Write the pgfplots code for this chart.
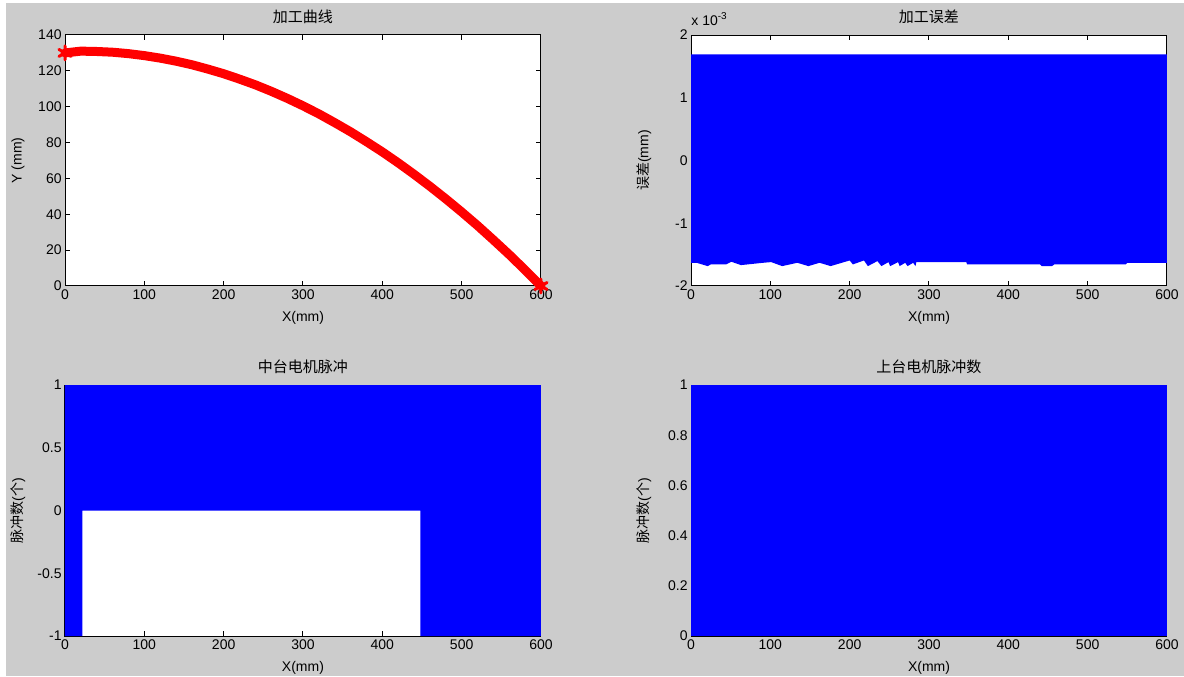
\documentclass[border=0pt]{standalone}
\usepackage{fontspec}
\setmainfont{Liberation Sans}
\newfontfamily\cjk{Noto Sans CJK SC}
\usepackage{pgfplots}
\pgfplotsset{compat=1.18}
\definecolor{figgray}{RGB}{204,204,204}
\definecolor{mblue}{RGB}{0,0,255}
\definecolor{mred}{RGB}{255,0,0}
\pgfplotsset{
  mat/.style={
    scale only axis, width=238pt, height=125.5pt,
    xmin=0, xmax=600, xtick={0,100,...,600},
    tick align=inside, major tick length=2.5pt,
    axis line style={line width=0.5pt},
    every tick/.style={black, line width=0.5pt},
    axis background/.style={fill=white},
    /pgf/number format/assume math mode=true,
    tick label style={font=\fontsize{7}{8}\selectfont},
    xticklabel style={inner sep=1.5pt},
    yticklabel style={inner sep=1.5pt},
    label style={font=\fontsize{7}{8}\selectfont},
    every axis title shift=0pt,
    title style={font=\fontsize{7.5}{8}\selectfont\cjk, at={(axis description cs:0.5,1.0717)}, anchor=center, yshift=0pt},
    xlabel style={at={(axis description cs:0.5,-0.1275)}, anchor=center},
    ylabel style={at={(axis description cs:-0.0987,0.5)}, anchor=center, rotate=0},
    xlabel={X(mm)},
  }
}
\begin{document}
\begin{tikzpicture}
\path[use as bounding box] (0pt,0pt) rectangle (592pt,338pt);
\fill[white] (0pt,0pt) rectangle (592pt,338pt);
\fill[figgray] (3pt,0pt) rectangle (592pt,336.5pt);

% top-left
\begin{axis}[mat, at={(32.5pt,195pt)}, anchor=south west,
  ymin=0, ymax=140, ytick={0,20,...,140},
  title={加工曲线}, ylabel={Y (mm)}, clip=false]
\addplot[mred, line width=4.5pt, line cap=round, line join=round,
  mark=asterisk, mark indices={1,31}, mark size=3.5pt,
  mark options={line width=1.5pt, solid}] coordinates {
(0,130.0) (20,131.0) (40,130.8) (60,130.4) (80,129.6) (100,128.5)
(120,127.1) (140,125.4) (160,123.4) (180,121.0) (200,118.4)
(220,115.4) (240,112.2) (260,108.6) (280,104.7) (300,100.5)
(320,96.0) (340,91.1) (360,86.0) (380,80.5) (400,74.8)
(420,68.7) (440,62.3) (460,55.6) (480,48.6) (500,41.3)
(520,33.7) (540,25.7) (560,17.5) (580,8.9) (600,0.0)
};
\end{axis}

% top-right
\begin{axis}[mat, at={(345.5pt,195pt)}, anchor=south west,
  ymin=-2, ymax=2, ytick={-2,-1,0,1,2}, clip mode=individual,
  title={加工误差}, ylabel={{\cjk 误差}(mm)}]
\addplot[fill=mblue, draw=none] coordinates {
(0,1.69) (600,1.69) (600,-1.630) (550,-1.630) (548,-1.656) (458,-1.656)
(455,-1.683) (442,-1.683) (440,-1.656) (348,-1.656) (347,-1.619)
(284,-1.619) (283,-1.683) (280,-1.630) (273,-1.683) (270,-1.630)
(263,-1.683) (261,-1.619) (251,-1.683) (249,-1.619) (240,-1.683)
(235,-1.603) (223,-1.683) (218,-1.593) (204,-1.656) (200,-1.593)
(176,-1.683) (162,-1.630) (148,-1.683) (134,-1.630) (115,-1.683)
(101,-1.619) (91,-1.630) (63,-1.667) (51,-1.614) (44,-1.656)
(25,-1.656) (21,-1.683) (7,-1.630) (0,-1.630)
} -- cycle;
\node[anchor=south west, inner sep=0pt, font=\fontsize{7}{8}\selectfont]
  at (axis description cs:0,1.035) {x 10\textsuperscript{-3}};
\end{axis}

% bottom-left
\begin{axis}[mat, at={(32.5pt,20pt)}, anchor=south west,
  ymin=-1, ymax=1, ytick={-1,-0.5,0,0.5,1},
  yticklabels={-1,-0.5,0,0.5,1},
  title={中台电机脉冲}, ylabel={{\cjk 脉冲数}({\cjk 个})}]
\addplot[fill=mblue, draw=none] coordinates {
(0,-1) (0,1) (600,1) (600,-1) (448,-1) (448,0) (22,0) (22,-1)
} -- cycle;
\end{axis}

% bottom-right
\begin{axis}[mat, at={(345.5pt,20pt)}, anchor=south west,
  ymin=0, ymax=1, ytick={0,0.2,0.4,0.6,0.8,1},
  yticklabels={0,0.2,0.4,0.6,0.8,1},
  title={上台电机脉冲数}, ylabel={{\cjk 脉冲数}({\cjk 个})}]
\addplot[fill=mblue, draw=none] coordinates {
(0,0) (0,1) (600,1) (600,0)
} -- cycle;
\end{axis}
\end{tikzpicture}
\end{document}
